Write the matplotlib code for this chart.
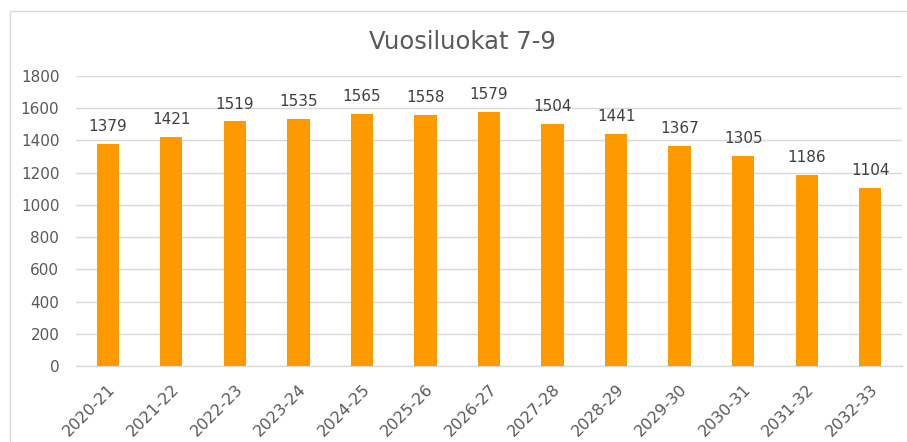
import matplotlib.pyplot as plt
from matplotlib.patches import Rectangle

years = ['2020-21', '2021-22', '2022-23', '2023-24', '2024-25', '2025-26', '2026-27',
         '2027-28', '2028-29', '2029-30', '2030-31', '2031-32', '2032-33']
students = [1379, 1421, 1519, 1535, 1565, 1558, 1579, 1504, 1441, 1367, 1305, 1186, 1104]
y_ticks = [0, 200, 400, 600, 800, 1000, 1200, 1400, 1600, 1800]

text_grey = '#595959'
grid_grey = '#D9D9D9'

fig = plt.figure(figsize=(9.07, 4.42), dpi=100)
# chart area border, runs off the right and bottom edges like the screenshot
fig.patches.append(Rectangle((10 / 907, -0.1), 1.2, 1.1 - 11 / 442, transform=fig.transFigure,
                             fill=False, edgecolor=grid_grey, linewidth=1.0))

ax = fig.add_axes([76 / 907, 1 - 366 / 442, 826 / 907, 290 / 442])
x = range(len(years))
bars = ax.bar(x, students, width=0.35, color='#FF9900', zorder=3)

ax.set_xlim(-0.5, len(years) - 0.5)
ax.set_ylim(0, 1800)
ax.set_yticks(y_ticks)
ax.set_yticklabels([str(v) for v in y_ticks], fontsize=11, color=text_grey)
ax.set_xticks(list(x))
ax.set_xticklabels(years, rotation=45, ha='right', rotation_mode='anchor',
                   fontsize=11.5, color=text_grey)
ax.tick_params(axis='both', length=0)
ax.tick_params(axis='y', pad=12)
ax.tick_params(axis='x', pad=11)

ax.grid(axis='y', color=grid_grey, linewidth=1.0, zorder=0)
for side in ['top', 'right', 'left']:
    ax.spines[side].set_visible(False)
ax.spines['bottom'].set_color(grid_grey)
ax.spines['bottom'].set_linewidth(1.0)

for b, v in zip(bars, students):
    ax.annotate(str(v), (b.get_x() + b.get_width() / 2, v), xytext=(0, 7),
                textcoords='offset points', ha='center', va='bottom',
                fontsize=11, color='#404040')

fig.text(462 / 907, 1 - 42 / 442, 'Vuosiluokat 7-9', ha='center', va='center',
         fontsize=17.5, color=text_grey)

fig.savefig('out.png', dpi=100)
